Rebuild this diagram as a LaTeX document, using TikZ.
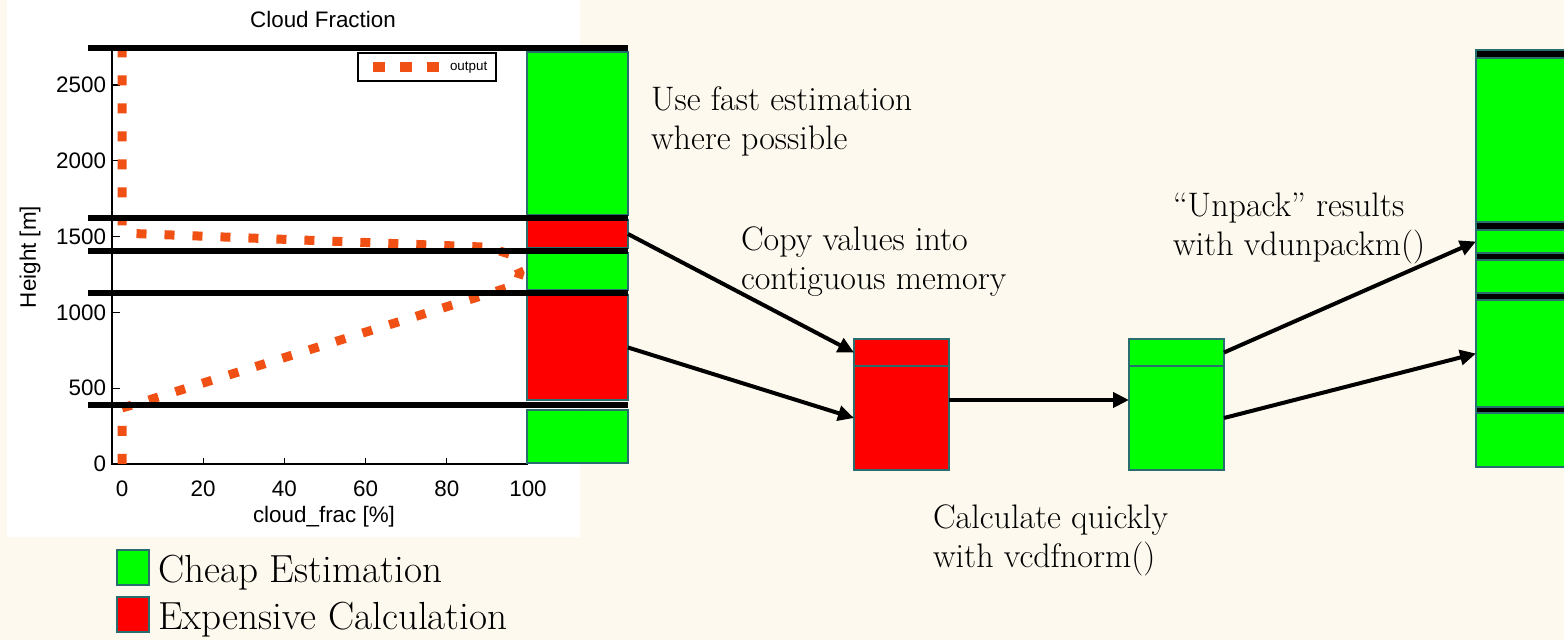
\documentclass[tikz,border=0pt]{standalone}
\usepackage{fontspec}
\newfontfamily\plotfont{Liberation Sans}
\usetikzlibrary{arrows.meta}
\definecolor{cream}{RGB}{254,249,238}
\definecolor{cheap}{RGB}{0,255,0}
\definecolor{dear}{RGB}{255,0,0}
\definecolor{edge}{RGB}{40,110,110}
\definecolor{curve}{RGB}{240,80,20}

\begin{document}
\begin{tikzpicture}[x=0.5pt, y=-0.5pt,
        every node/.style = {inner sep=0, outer sep=0},
        cell/.style = {draw=edge, line width=1pt, anchor=north west},
        cut/.style = {line width=3pt},
        link/.style = {line width=2pt, -{Triangle[length=8pt,width=7.5pt]}},
        note/.style = {anchor=north west, align=left,
            font=\fontsize{17}{19.5}\selectfont},
        ticklab/.style = {font=\plotfont\fontsize{11.2}{13}\selectfont},
        keytext/.style = {anchor=base west, font=\fontsize{19.6}{23}\selectfont}]
    \useasboundingbox[fill=cream] (0,0) rectangle (1564,640);
    \clip (0,0) rectangle (1564,640);

    % the cloud fraction plot
    \fill[white] (7,0) rectangle (580,537);
    \node[ticklab] (title) at (323,20) {Cloud Fraction};
    \node[ticklab, rotate=90] (ylab) at (30,257) {Height [m]};
    \node[ticklab] (xlab) at (324,517) {cloud\_frac [\%]};
    \begin{scope}[shift={(122,464)}, x=2.03pt, y=0.0758pt]
        \draw[line width=0.8pt] (-2.5,2760) -- (-2.5,0) -- (100,0);
        \foreach \h in {0,500,...,2500}
            \draw[line width=0.6pt] (-2.5,\h) -- ++(2,0)
                node[ticklab, anchor=east, xshift=-7pt] {\h};
        \foreach \c in {0,20,...,100}
            \draw[line width=0.6pt] (\c,0) -- ++(0,40)
                node[ticklab, anchor=north, yshift=-8.5pt] at (\c,0) {\c};
        \draw[curve, line width=4.5pt, dash pattern=on 5pt off 9pt]
            (0,0) -- (0,370) -- (4,400) -- (97,1180) -- (98,1260)
            -- (96,1380) -- (90,1430) -- (3,1520) -- (0,1560) -- (0,2750);
    \end{scope}
    \node[draw, line width=0.6pt, anchor=north west,
        minimum width=69pt, minimum height=14pt] (key) at (358,53) {};
    \draw[curve, line width=5pt, dash pattern=on 6pt off 7.5pt]
        (373,67) -- (443,67);
    \node[anchor=west, font=\plotfont\fontsize{6.7}{8}\selectfont]
        (keylab) at (450,68) {output};

    % layers of the column
    \node[cell, fill=cheap, minimum width=50.5pt, minimum height=81.5pt] (g1) at (527,52) {};
    \node[cell, fill=dear, minimum width=50.5pt, minimum height=14pt] (r1) at (527,220) {};
    \node[cell, fill=cheap, minimum width=50.5pt, minimum height=18.5pt] (g2) at (527,253) {};
    \node[cell, fill=dear, minimum width=50.5pt, minimum height=52.5pt] (r2) at (527,295) {};
    \node[cell, fill=cheap, minimum width=50.5pt, minimum height=26.5pt] (g3) at (527,410) {};
    \foreach \y in {48,218,251,293,405}
        \draw[cut] (88,\y) -- (628,\y);

    % packed blocks
    \node[cell, fill=dear, minimum width=47.5pt, minimum height=13.5pt] (redtop) at (854,339) {};
    \node[cell, fill=dear, minimum width=47.5pt, minimum height=52pt] (redbot) at (854,366) {};
    \node[cell, fill=cheap, minimum width=47.5pt, minimum height=13.5pt] (greentop) at (1129,339) {};
    \node[cell, fill=cheap, minimum width=47.5pt, minimum height=52pt] (greenbot) at (1129,366) {};

    % unpacked column
    \node[cell, fill=black, minimum width=62pt, minimum height=4pt] (s0) at (1476,50) {};
    \node[cell, fill=cheap, minimum width=62pt, minimum height=82pt] (u1) at (1476,58) {};
    \node[cell, fill=black, minimum width=62pt, minimum height=4pt] (s1) at (1476,222) {};
    \node[cell, fill=cheap, minimum width=62pt, minimum height=11.5pt] (u2) at (1476,230) {};
    \node[cell, fill=black, minimum width=62pt, minimum height=3.5pt] (s2) at (1476,253) {};
    \node[cell, fill=cheap, minimum width=62pt, minimum height=16.5pt] (u3) at (1476,260) {};
    \node[cell, fill=black, minimum width=62pt, minimum height=3.5pt] (s3) at (1476,293) {};
    \node[cell, fill=cheap, minimum width=62pt, minimum height=53.5pt] (u4) at (1476,300) {};
    \node[cell, fill=black, minimum width=62pt, minimum height=3pt] (s4) at (1476,407) {};
    \node[cell, fill=cheap, minimum width=62pt, minimum height=27pt] (u5) at (1476,413) {};

    \draw[link] (r1.east) -- (redtop.west);
    \draw[link] (r2.east) -- (redbot.west);
    \draw[link] ([yshift=9pt]redbot.east) -- ([yshift=9pt]greenbot.west);
    \draw[link] (greentop.east) -- (u2.west);
    \draw[link] (greenbot.east) -- (u4.west);

    % notes
    \node[note] (fast) at (651,87) {Use fast estimation\\where possible};
    \node[note] (copy) at (741,227) {Copy values into\\contiguous memory};
    \node[note] (unpack) at (1173,193) {``Unpack'' results\\with vdunpackm()};
    \node[note] (calc) at (933,505) {Calculate quickly\\with vcdfnorm()};

    % legend
    \node[cell, fill=cheap, minimum width=16pt, minimum height=17.5pt] (keycheap) at (117,550) {};
    \node[cell, fill=dear, minimum width=16pt, minimum height=17.5pt] (keydear) at (117,597) {};
    \node[keytext] (cheaptext) at (158,583) {Cheap Estimation};
    \node[keytext] (deartext) at (158,630) {Expensive Calculation};
\end{tikzpicture}
\end{document}
